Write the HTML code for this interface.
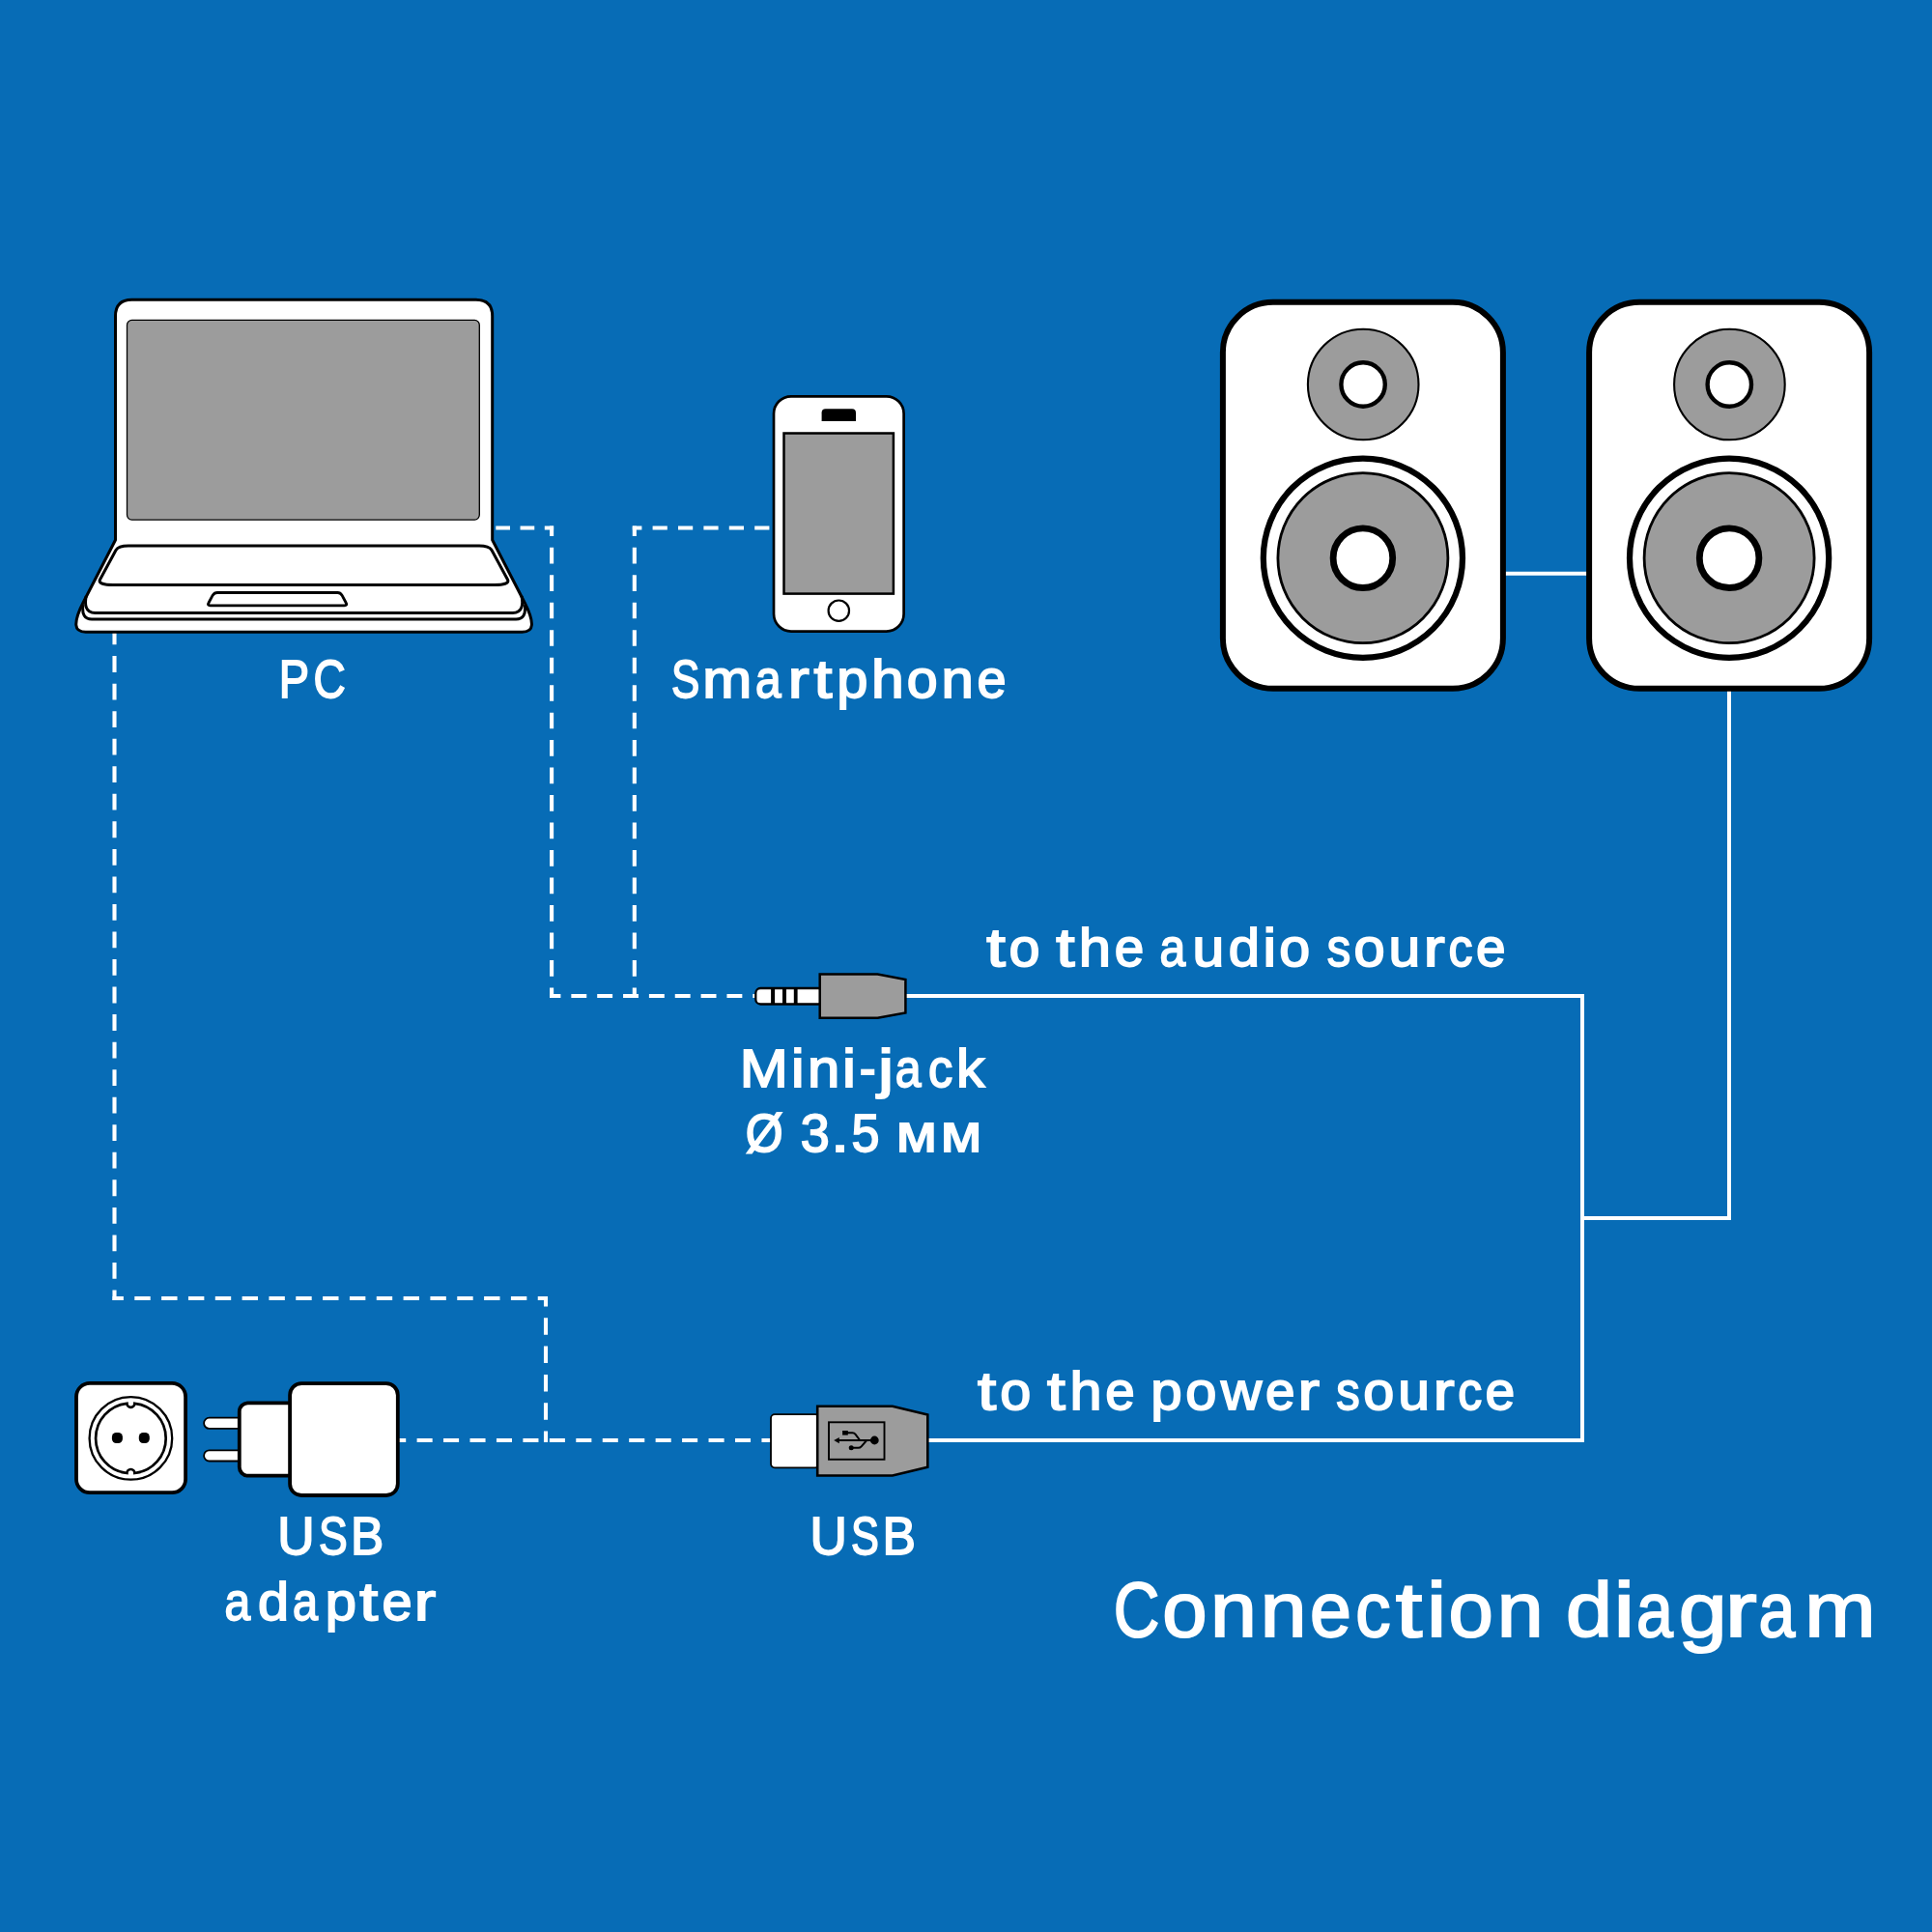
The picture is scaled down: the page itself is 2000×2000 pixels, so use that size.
<!DOCTYPE html>
<html><head><meta charset="utf-8">
<style>
html,body{margin:0;padding:0;width:2000px;height:2000px;overflow:hidden;background:#076cb6;}
svg{display:block;}
text{font-family:"Liberation Sans",sans-serif;fill:#fff;stroke:#fff;}
</style></head>
<body>
<svg width="2000" height="2000" viewBox="0 0 2000 2000" xmlns="http://www.w3.org/2000/svg">
<rect x="0" y="0" width="2000" height="2000" fill="#076cb6"/>

<!-- ===== dashed lines ===== -->
<g fill="none" stroke="#fff" stroke-width="4.1" stroke-linecap="butt">
  <!-- laptop right -> corner -->
  <line x1="505" y1="546.5" x2="573.1" y2="546.5" stroke-dasharray="14.7 10.55" stroke-dashoffset="16.95"/>
  <!-- vertical x=571.1 -->
  <line x1="571.1" y1="544.5" x2="571.1" y2="1033" stroke-dasharray="16.7 11.79" stroke-dashoffset="6.3"/>
  <!-- phone -> corner -->
  <line x1="654.8" y1="546.5" x2="799" y2="546.5" stroke-dasharray="15.2 11.2" stroke-dashoffset="5.6"/>
  <!-- vertical x=656.8 -->
  <line x1="656.8" y1="544.5" x2="656.8" y2="1033" stroke-dasharray="16.7 11.79" stroke-dashoffset="6.3"/>
  <!-- bottom horizontal y=1031 -->
  <line x1="569" y1="1031" x2="782" y2="1031" stroke-dasharray="15.9 10.95" stroke-dashoffset="4.5"/>
  <!-- left big vertical x=118.5 -->
  <line x1="118.5" y1="640" x2="118.5" y2="1346" stroke-dasharray="16.8 11.74" stroke-dashoffset="17.98"/>
  <!-- horizontal y=1344 -->
  <line x1="116.5" y1="1344" x2="567" y2="1344" stroke-dasharray="16.4 11.43" stroke-dashoffset="5.03"/>
  <!-- vertical x=565 -->
  <line x1="565" y1="1342" x2="565" y2="1493" stroke-dasharray="17.5 11.83" stroke-dashoffset="7.1"/>
  <!-- adapter -> usb y=1491 -->
  <line x1="405" y1="1491" x2="800" y2="1491" stroke-dasharray="16.05 11.4" stroke-dashoffset="0.85"/>
</g>

<!-- ===== solid lines ===== -->
<g fill="none" stroke="#fff" stroke-width="4" stroke-linejoin="miter">
  <line x1="1555" y1="593.7" x2="1646" y2="593.7"/>
  <polyline points="1790,712 1790,1261 1638,1261"/>
  <polyline points="930,1031 1638,1031 1638,1491 955,1491"/>
</g>

<!-- ===== laptop ===== -->
<g stroke="#000" stroke-linejoin="round">
  <path d="M119.5 559 L119.5 327.3 Q119.5 310.3 136.5 310.3 L492.7 310.3 Q509.7 310.3 509.7 327.3 L509.7 559 L543.2 624 C547.8 633 550.8 640.5 550.4 647 C550.1 651.5 546.5 654.2 540.5 654.2 L88.7 654.2 C82.7 654.2 79.1 651.5 78.8 647 C78.4 640.5 81.4 633 86 624 Z" fill="#fff" stroke-width="3"/>
  <rect x="131.5" y="331.4" width="364.8" height="206.7" rx="5" fill="#9c9c9c" stroke-width="1.3"/>
  
  <path d="M133 565 L496 565 C503 565 507 566 509 569.5 L525.5 600 C527.5 604 521 605.5 512 605.5 L117 605.5 C108 605.5 101.5 604 103.5 600 L120 569.5 C122 566 126 565 133 565 Z" fill="#fff" stroke-width="3"/>
  <path d="M89.2 617 C87.6 625 88 634.6 98.5 634.6 L530.7 634.6 C541.2 634.6 541.6 625 540 617" fill="none" stroke-width="3"/>
  <path d="M85.8 626 C84.8 636 87.5 641 95 641 L534.2 641 C541.7 641 544.4 636 543.4 626" fill="none" stroke-width="3"/>
  <path d="M225 613.5 L349.5 613.5 Q352.3 613.5 354 616.2 L358.2 624 Q359.8 626.8 356.5 626.8 L217.7 626.8 Q214.4 626.8 216 624 L220.2 616.2 Q221.9 613.5 225 613.5 Z" fill="#fff" stroke-width="2.8"/>
</g>

<!-- ===== phone ===== -->
<g stroke="#000">
  <rect x="801" y="410.3" width="134.6" height="243.3" rx="18" fill="#fff" stroke-width="2.7"/>
  <path d="M850.6 436.1 L850.6 427.3 Q850.6 423.3 854.6 423.3 L882 423.3 Q886 423.3 886 427.3 L886 436.1 Z" fill="#000" stroke="none"/>
  <rect x="811.5" y="448.5" width="113.4" height="166.1" fill="#9c9c9c" stroke-width="2.5"/>
  <circle cx="868.3" cy="632.2" r="10.7" fill="#fff" stroke-width="2.2"/>
</g>

<!-- ===== speakers ===== -->
<g id="spk" stroke="#000">
  <rect x="1265.9" y="312.8" width="290" height="400" rx="52" fill="#fff" stroke-width="6"/>
  <circle cx="1411.2" cy="398" r="57.3" fill="#9c9c9c" stroke-width="2.1"/>
  <circle cx="1411.1" cy="398" r="22.7" fill="#fff" stroke-width="4.4"/>
  <circle cx="1410.9" cy="577.7" r="103.1" fill="#fff" stroke-width="6.2"/>
  <circle cx="1410.9" cy="577.7" r="88" fill="#9c9c9c" stroke-width="2.8"/>
  <circle cx="1410.9" cy="577.7" r="30.8" fill="#fff" stroke-width="6.8"/>
</g>
<use href="#spk" x="379.2" y="0"/>

<!-- ===== mini jack ===== -->
<g stroke="#000">
  <rect x="782.3" y="1023" width="70" height="16.5" rx="5" fill="#fff" stroke-width="2.3"/>
  <rect x="798.1" y="1023" width="4" height="16.5" fill="#000" stroke="none"/>
  <rect x="810" y="1023" width="4" height="16.5" fill="#000" stroke="none"/>
  <rect x="821.8" y="1023" width="3.8" height="16.5" fill="#000" stroke="none"/>
  <polygon points="848.7,1008.5 908.5,1008.5 937.4,1014 937.4,1048.4 908.5,1053.7 848.7,1053.7" fill="#9c9c9c" stroke-width="2.5"/>
</g>

<!-- ===== USB connector ===== -->
<g stroke="#000">
  <rect x="798" y="1464.1" width="50" height="55.2" rx="4" fill="#fff" stroke-width="1.8"/>
  <polygon points="846.2,1455.7 923.9,1455.7 960.3,1464.5 960.3,1518.8 923.9,1527.5 846.2,1527.5" fill="#9c9c9c" stroke-width="2.6"/>
  <rect x="858" y="1472.3" width="57.5" height="38.5" fill="none" stroke-width="1.9"/>
  <!-- usb symbol -->
  <g fill="none" stroke-width="2" stroke-linejoin="round">
    <path d="M866 1491 L904 1491"/>
    <path d="M877 1483.2 L882.4 1483.2 Q884.4 1483.2 885.6 1484.8 L890.2 1491"/>
    <path d="M881.2 1498.8 L888.4 1498.8 Q890.4 1498.8 891.7 1497.3 L897.2 1491"/>
  </g>
  <path d="M863.2 1491.1 L868.8 1487.9 L868.8 1494.3 Z" fill="#000" stroke="none"/>
  <circle cx="905.3" cy="1491" r="4.4" fill="#000" stroke="none"/>
  <rect x="872.1" y="1481" width="5.7" height="4.6" fill="#000" stroke="none"/>
  <circle cx="881.2" cy="1498.8" r="2.5" fill="#000" stroke="none"/>
</g>

<!-- ===== socket ===== -->
<g stroke="#000">
  <rect x="79" y="1431.9" width="113.1" height="113.3" rx="14" fill="#fff" stroke-width="3.8"/>
  <circle cx="135.4" cy="1488.9" r="42.8" fill="none" stroke-width="2.3"/>
  <path d="M131.4 1452.82 A36.3 36.3 0 0 0 131.4 1524.98 A4 4 0 0 1 139.4 1524.98 A36.3 36.3 0 0 0 139.4 1452.82 A4 4 0 0 1 131.4 1452.82 Z" fill="none" stroke-width="2.7"/>
  <rect x="115.9" y="1483" width="11" height="11" rx="4.5" fill="#000" stroke="none"/>
  <rect x="143.8" y="1483" width="11" height="11" rx="4.5" fill="#000" stroke="none"/>
</g>

<!-- ===== adapter ===== -->
<g stroke="#000">
  <path d="M255 1467.7 L216.7 1467.7 A5.6 5.6 0 0 0 216.7 1478.9 L255 1478.9" fill="#fff" stroke-width="1.8"/>
  <path d="M255 1501.3 L216.7 1501.3 A5.6 5.6 0 0 0 216.7 1512.5 L255 1512.5" fill="#fff" stroke-width="1.8"/>
  <rect x="247.8" y="1452.3" width="70" height="75.4" rx="9" fill="#fff" stroke-width="3.8"/>
  <rect x="300.1" y="1432.2" width="111.7" height="115.8" rx="12" fill="#fff" stroke-width="3.8"/>
</g>

<!-- ===== text ===== -->
<g font-size="55.8" stroke-width="1.8">
<text x="288.80" y="722.35" textLength="31.30" lengthAdjust="spacingAndGlyphs">P</text>
<text x="324.60" y="722.35" textLength="33.24" lengthAdjust="spacingAndGlyphs">C</text>
</g>
<g font-size="55.8" stroke-width="1.8">
<text x="695.03" y="722.4" textLength="29.25" lengthAdjust="spacingAndGlyphs">S</text>
<text x="727.27" y="722.4" textLength="51.04" lengthAdjust="spacingAndGlyphs">m</text>
<text x="782.05" y="722.4" textLength="26.61" lengthAdjust="spacingAndGlyphs">a</text>
<text x="815.72" y="722.4" textLength="21.99" lengthAdjust="spacingAndGlyphs">r</text>
<text x="842.41" y="722.4" textLength="18.89" lengthAdjust="spacingAndGlyphs">t</text>
<text x="866.21" y="722.4" textLength="32.18" lengthAdjust="spacingAndGlyphs">p</text>
<text x="902.01" y="722.4" textLength="33.76" lengthAdjust="spacingAndGlyphs">h</text>
<text x="938.74" y="722.4" textLength="31.92" lengthAdjust="spacingAndGlyphs">o</text>
<text x="974.57" y="722.4" textLength="33.34" lengthAdjust="spacingAndGlyphs">n</text>
<text x="1011.46" y="722.4" textLength="30.07" lengthAdjust="spacingAndGlyphs">e</text>
</g>
<g font-size="55.8" stroke-width="1.8">
<text x="1021.19" y="999.7" textLength="19.53" lengthAdjust="spacingAndGlyphs">t</text>
<text x="1044.48" y="999.7" textLength="32.03" lengthAdjust="spacingAndGlyphs">o</text>
<text x="1093.32" y="999.7" textLength="19.28" lengthAdjust="spacingAndGlyphs">t</text>
<text x="1116.89" y="999.7" textLength="33.26" lengthAdjust="spacingAndGlyphs">h</text>
<text x="1153.70" y="999.7" textLength="30.44" lengthAdjust="spacingAndGlyphs">e</text>
<text x="1200.43" y="999.7" textLength="26.73" lengthAdjust="spacingAndGlyphs">a</text>
<text x="1234.47" y="999.7" textLength="32.79" lengthAdjust="spacingAndGlyphs">u</text>
<text x="1271.73" y="999.7" textLength="32.28" lengthAdjust="spacingAndGlyphs">d</text>
<text x="1307.43" y="999.7" textLength="13.54" lengthAdjust="spacingAndGlyphs">i</text>
<text x="1324.32" y="999.7" textLength="31.91" lengthAdjust="spacingAndGlyphs">o</text>
<text x="1373.67" y="999.7" textLength="24.46" lengthAdjust="spacingAndGlyphs">s</text>
<text x="1401.47" y="999.7" textLength="32.16" lengthAdjust="spacingAndGlyphs">o</text>
<text x="1437.43" y="999.7" textLength="32.75" lengthAdjust="spacingAndGlyphs">u</text>
<text x="1473.87" y="999.7" textLength="21.98" lengthAdjust="spacingAndGlyphs">r</text>
<text x="1499.61" y="999.7" textLength="24.96" lengthAdjust="spacingAndGlyphs">c</text>
<text x="1527.98" y="999.7" textLength="30.58" lengthAdjust="spacingAndGlyphs">e</text>
</g>
<g font-size="55.8" stroke-width="1.8">
<text x="765.81" y="1124.7" textLength="50.07" lengthAdjust="spacingAndGlyphs">M</text>
<text x="819.14" y="1124.7" textLength="13.53" lengthAdjust="spacingAndGlyphs">i</text>
<text x="836.02" y="1124.7" textLength="33.27" lengthAdjust="spacingAndGlyphs">n</text>
<text x="872.05" y="1124.7" textLength="13.92" lengthAdjust="spacingAndGlyphs">i</text>
<text x="889.80" y="1124.7" textLength="16.95" lengthAdjust="spacingAndGlyphs">-</text>
<text x="909.01" y="1124.7" textLength="16.10" lengthAdjust="spacingAndGlyphs">j</text>
<text x="926.67" y="1124.7" textLength="26.76" lengthAdjust="spacingAndGlyphs">a</text>
<text x="961.10" y="1124.7" textLength="25.24" lengthAdjust="spacingAndGlyphs">c</text>
<text x="989.96" y="1124.7" textLength="29.31" lengthAdjust="spacingAndGlyphs">k</text>
</g>
<g font-size="55.8" stroke-width="1.8">
<text x="771.70" y="1192.4" textLength="38.88" lengthAdjust="spacingAndGlyphs">Ø</text>
<text x="828.71" y="1192.4" textLength="30.03" lengthAdjust="spacingAndGlyphs">3</text>
<text x="859.95" y="1192.4" textLength="19.10" lengthAdjust="spacingAndGlyphs">.</text>
<text x="881.39" y="1192.4" textLength="28.99" lengthAdjust="spacingAndGlyphs">5</text>
<text x="927.65" y="1192.4" textLength="42.15" lengthAdjust="spacingAndGlyphs">м</text>
<text x="973.70" y="1192.4" textLength="42.59" lengthAdjust="spacingAndGlyphs">м</text>
</g>
<g font-size="55.8" stroke-width="1.8">
<text x="1011.91" y="1459.0" textLength="19.16" lengthAdjust="spacingAndGlyphs">t</text>
<text x="1035.15" y="1459.0" textLength="32.02" lengthAdjust="spacingAndGlyphs">o</text>
<text x="1083.91" y="1459.0" textLength="18.75" lengthAdjust="spacingAndGlyphs">t</text>
<text x="1107.44" y="1459.0" textLength="33.08" lengthAdjust="spacingAndGlyphs">h</text>
<text x="1144.29" y="1459.0" textLength="30.45" lengthAdjust="spacingAndGlyphs">e</text>
<text x="1191.31" y="1459.0" textLength="32.44" lengthAdjust="spacingAndGlyphs">p</text>
<text x="1227.38" y="1459.0" textLength="32.16" lengthAdjust="spacingAndGlyphs">o</text>
<text x="1263.98" y="1459.0" textLength="42.14" lengthAdjust="spacingAndGlyphs">w</text>
<text x="1309.97" y="1459.0" textLength="30.46" lengthAdjust="spacingAndGlyphs">e</text>
<text x="1343.45" y="1459.0" textLength="22.54" lengthAdjust="spacingAndGlyphs">r</text>
<text x="1383.20" y="1459.0" textLength="24.45" lengthAdjust="spacingAndGlyphs">s</text>
<text x="1411.20" y="1459.0" textLength="32.02" lengthAdjust="spacingAndGlyphs">o</text>
<text x="1447.23" y="1459.0" textLength="32.82" lengthAdjust="spacingAndGlyphs">u</text>
<text x="1483.74" y="1459.0" textLength="21.90" lengthAdjust="spacingAndGlyphs">r</text>
<text x="1509.22" y="1459.0" textLength="24.92" lengthAdjust="spacingAndGlyphs">c</text>
<text x="1537.39" y="1459.0" textLength="30.62" lengthAdjust="spacingAndGlyphs">e</text>
</g>
<g font-size="55.8" stroke-width="1.8">
<text x="838.45" y="1609.45" textLength="38.38" lengthAdjust="spacingAndGlyphs">U</text>
<text x="881.00" y="1609.45" textLength="28.81" lengthAdjust="spacingAndGlyphs">S</text>
<text x="913.55" y="1609.45" textLength="34.45" lengthAdjust="spacingAndGlyphs">B</text>
<text x="287.30" y="1609.45" textLength="38.37" lengthAdjust="spacingAndGlyphs">U</text>
<text x="330.01" y="1609.45" textLength="29.68" lengthAdjust="spacingAndGlyphs">S</text>
<text x="362.95" y="1609.45" textLength="34.23" lengthAdjust="spacingAndGlyphs">B</text>
</g>
<g font-size="55.8" stroke-width="1.8">
<text x="232.56" y="1676.7" textLength="26.68" lengthAdjust="spacingAndGlyphs">a</text>
<text x="266.97" y="1676.7" textLength="32.04" lengthAdjust="spacingAndGlyphs">d</text>
<text x="302.90" y="1676.7" textLength="26.04" lengthAdjust="spacingAndGlyphs">a</text>
<text x="336.70" y="1676.7" textLength="32.20" lengthAdjust="spacingAndGlyphs">p</text>
<text x="372.17" y="1676.7" textLength="18.95" lengthAdjust="spacingAndGlyphs">t</text>
<text x="395.57" y="1676.7" textLength="31.10" lengthAdjust="spacingAndGlyphs">e</text>
<text x="428.88" y="1676.7" textLength="22.42" lengthAdjust="spacingAndGlyphs">r</text>
</g>
<g font-size="80.3" stroke-width="2.0">
<text x="1152.87" y="1693.8" textLength="47.65" lengthAdjust="spacingAndGlyphs">C</text>
<text x="1203.24" y="1693.8" textLength="46.33" lengthAdjust="spacingAndGlyphs">o</text>
<text x="1253.01" y="1693.8" textLength="47.84" lengthAdjust="spacingAndGlyphs">n</text>
<text x="1304.65" y="1693.8" textLength="47.82" lengthAdjust="spacingAndGlyphs">n</text>
<text x="1356.09" y="1693.8" textLength="42.90" lengthAdjust="spacingAndGlyphs">e</text>
<text x="1403.13" y="1693.8" textLength="36.34" lengthAdjust="spacingAndGlyphs">c</text>
<text x="1444.77" y="1693.8" textLength="27.52" lengthAdjust="spacingAndGlyphs">t</text>
<text x="1477.05" y="1693.8" textLength="20.14" lengthAdjust="spacingAndGlyphs">i</text>
<text x="1499.61" y="1693.8" textLength="46.33" lengthAdjust="spacingAndGlyphs">o</text>
<text x="1549.79" y="1693.8" textLength="47.93" lengthAdjust="spacingAndGlyphs">n</text>
<text x="1620.98" y="1693.8" textLength="47.94" lengthAdjust="spacingAndGlyphs">d</text>
<text x="1670.41" y="1693.8" textLength="21.66" lengthAdjust="spacingAndGlyphs">i</text>
<text x="1694.05" y="1693.8" textLength="37.87" lengthAdjust="spacingAndGlyphs">a</text>
<text x="1737.80" y="1693.8" textLength="49.89" lengthAdjust="spacingAndGlyphs">g</text>
<text x="1785.78" y="1693.8" textLength="32.95" lengthAdjust="spacingAndGlyphs">r</text>
<text x="1820.52" y="1693.8" textLength="37.79" lengthAdjust="spacingAndGlyphs">a</text>
<text x="1868.27" y="1693.8" textLength="73.35" lengthAdjust="spacingAndGlyphs">m</text>
</g>
</svg>
</body></html>
